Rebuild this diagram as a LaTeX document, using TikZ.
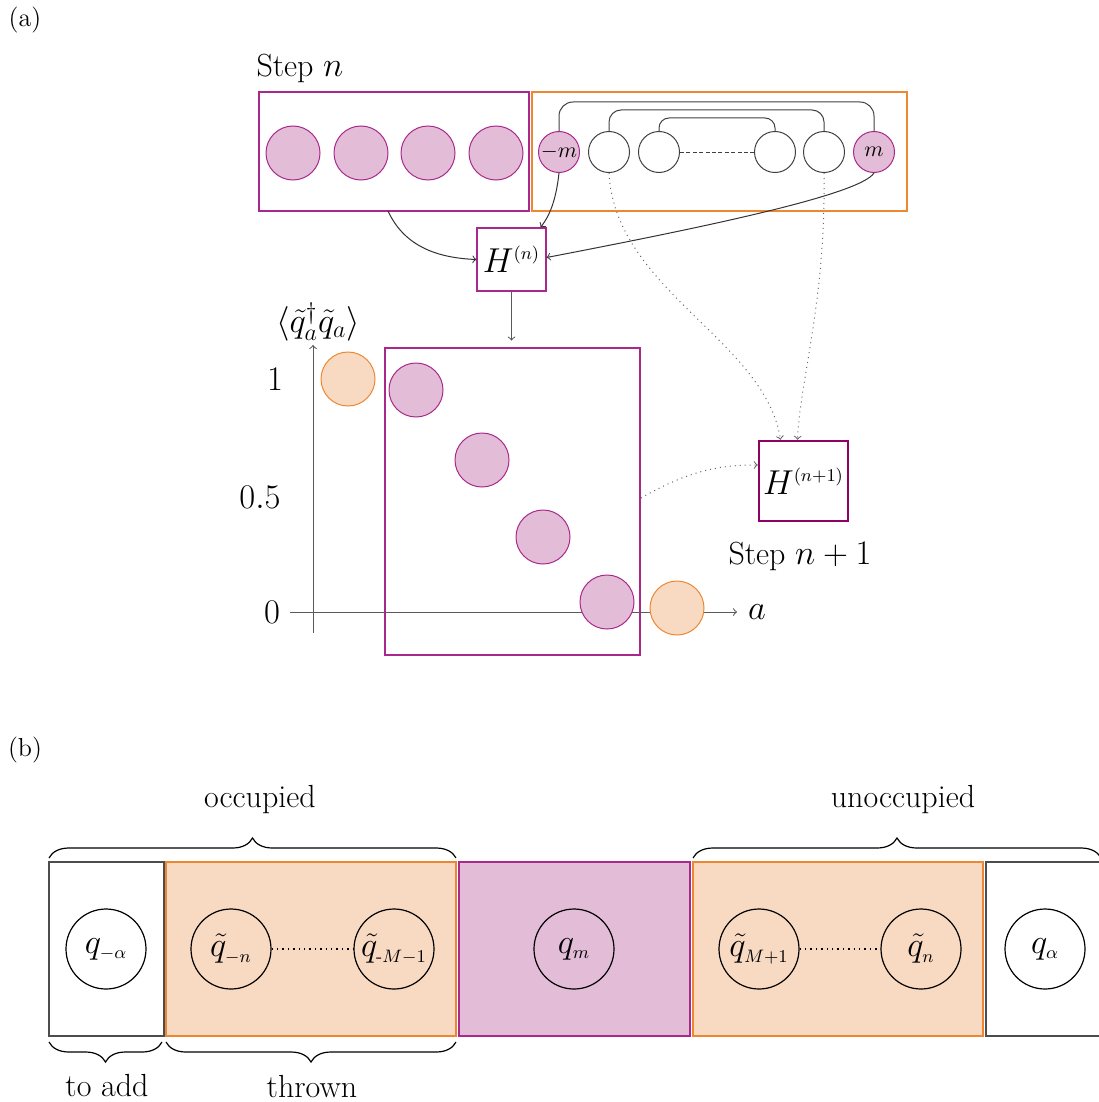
\documentclass[tikz,border=0pt]{standalone}
\usetikzlibrary{decorations.pathreplacing,calc}
\definecolor{pfill}{RGB}{227,188,215}
\definecolor{pline}{RGB}{170,40,140}
\definecolor{ofill}{RGB}{248,217,194}
\definecolor{oline}{RGB}{238,135,50}
\definecolor{hline}{RGB}{145,0,100}
\definecolor{gline}{RGB}{90,90,90}
\DeclareMathSizes{16}{16}{9.5}{7}
\DeclareMathSizes{17}{17}{9}{7}
\begin{document}
\begin{tikzpicture}[x=0.5pt,y=-0.5pt,line width=0.5pt,
  pcirc/.style={circle,draw=pline,fill=pfill,minimum size=27pt,inner sep=0pt},
  ocirc/.style={circle,draw=oline,fill=ofill,minimum size=27pt,inner sep=0pt},
  scirc/.style={circle,draw=black!75,minimum size=20.5pt,inner sep=0pt,font=\fontsize{11}{13}\selectfont},
  spcirc/.style={scirc,draw=pline,fill=pfill},
  bcirc/.style={circle,draw=black,line width=0.6pt,minimum size=40pt,inner sep=0pt,font=\fontsize{16}{19}\selectfont},
  box/.style={inner sep=0pt,line width=0.6pt},
  lbl/.style={font=\fontsize{16}{19}\selectfont},
  big/.style={font=\fontsize{18}{22}\selectfont},
  dotarr/.style={->,dotted,draw=black!60},
  brc/.style={decorate,decoration={brace,amplitude=10pt},line width=0.6pt}]
\useasboundingbox (0,0) rectangle (1098,1102);

% ---------- (a) ----------
\node[font=\fontsize{13}{16}\selectfont] (la) at (25,20) {(a)};
\node[lbl] (stepn) at (300,68) {Step $n$};

\node[box,draw=pline,minimum width=135pt,minimum height=59.5pt] (L) at (394,151.5) {};
\node[box,draw=oline,minimum width=187.5pt,minimum height=59.5pt] (R) at (719.5,151.5) {};

\node[pcirc] (p1) at (293,153) {};
\node[pcirc] (p2) at (361,153) {};
\node[pcirc] (p3) at (428,153) {};
\node[pcirc] (p4) at (496,153) {};

\node[spcirc] (m1) at (559,152) {$-m$};
\node[scirc] (c2) at (609,152) {};
\node[scirc] (c3) at (659,152) {};
\node[scirc] (c4) at (775,152) {};
\node[scirc] (c5) at (824,152) {};
\node[spcirc] (m2) at (874,152) {$m$};

\draw[black!75,rounded corners=7pt] (m1.north) |- (716,102) -| (m2.north);
\draw[black!75,rounded corners=6pt] (c2.north) |- (716,110) -| (c5.north);
\draw[black!75,rounded corners=5pt] (c3.north) |- (716,118) -| (c4.north);
\draw[black!75,dash pattern=on 2pt off 1.2pt,line width=0.4pt] (c3.east) -- (c4.west);

\node[box,draw=pline,minimum width=34.5pt,minimum height=31.5pt,font=\fontsize{16}{19}\selectfont] (Hn) at (511.5,259.5) {$H^{(n)}$};

\draw[->,black!80] (388,211) .. controls (405,248) and (440,258) .. (Hn.west);
\draw[->,black!80] (m1.south) .. controls (556,200) and (550,215) .. ($(Hn.north east)+(-6,0)$);
\draw[->,black!80] (m2.south) .. controls (860,195) and (700,228) .. ($(Hn.east)+(0,-2)$);

% plot
\coordinate (ybot) at (313,633);
\coordinate (ytop) at (313,345);
\coordinate (xl) at (290,612);
\coordinate (xr) at (737,612);
\node[box,draw=pline,minimum width=127.5pt,minimum height=153.5pt] (PR) at (512.5,501.5) {};
\draw[->,gline] (Hn.south) -- ($(Hn.south)+(0,49)$);
\draw[->,gline] (ybot) -- (ytop);
\draw[->,gline] (xl) -- (xr);
\node[big,anchor=west] (alab) at (741,612) {$a$};
\node[big] (yl) at (318,322) {$\langle\tilde{q}_a^\dagger\tilde{q}_a\rangle$};
\node[big] (t1) at (275,379) {$1$};
\node[big] (t05) at (260,497) {$0.5$};
\node[big] (t0) at (272,612) {$0$};

\node[ocirc] (o1) at (348,379) {};
\node[ocirc] (o2) at (677,608) {};
\node[pcirc] (q1) at (416,390) {};
\node[pcirc] (q2) at (482,460) {};
\node[pcirc] (q3) at (543,537) {};
\node[pcirc] (q4) at (607,602) {};

\node[box,draw=hline,line width=1.2pt,fill=white,minimum width=44.5pt,minimum height=40pt,font=\fontsize{17}{20}\selectfont] (H1) at (803.5,481) {$H^{(n+1)}$};
\node[lbl] (step1) at (800,556) {Step $n+1$};

\draw[dotarr] (c2.south) .. controls (615,290) and (765,340) .. ($(H1.north)+(-23,0)$);
\draw[dotarr] (c5.south) .. controls (826,300) and (800,380) .. ($(H1.north)+(-6,0)$);
\draw[dotarr] (641,498) .. controls (690,470) and (720,465) .. ($(H1.west)+(0,-16)$);

% ---------- (b) ----------
\node[font=\fontsize{13}{16}\selectfont] (lb) at (25,750) {(b)};

\node[box,draw=black!70,minimum width=57.5pt,minimum height=87pt] (b1) at (106.5,949) {};
\node[box,draw=oline,fill=ofill,minimum width=145pt,minimum height=87pt] (b2) at (311,949) {};
\node[box,draw=pline,fill=pfill,minimum width=115.5pt,minimum height=87pt] (b3) at (574.5,949) {};
\node[box,draw=oline,fill=ofill,minimum width=145pt,minimum height=87pt] (b4) at (838,949) {};
\node[box,draw=black!70,minimum width=62pt,minimum height=87pt] (b5) at (1048,949) {};

\node[bcirc] (qa1) at (106,949) {$q_{-\alpha}$};
\node[bcirc] (qn1) at (231,949) {$\tilde{q}_{-n}$};
\node[bcirc] (qM1) at (394,949) {$\tilde{q}_{\mbox{\fontsize{9}{9}\selectfont -}M-1}$};
\node[bcirc] (qm) at (574,949) {$q_m$};
\node[bcirc] (qM2) at (759,949) {$\tilde{q}_{M+1}$};
\node[bcirc] (qn2) at (921,949) {$\tilde{q}_{n}$};
\node[bcirc] (qa2) at (1045,949) {$q_{\alpha}$};
\draw[dotted,line width=0.7pt] (qn1.east) -- (qM1.west);
\draw[dotted,line width=0.7pt] (qM2.east) -- (qn2.west);

\draw[brc] (49,858) -- (456,858);
\draw[brc] (693,858) -- (1101,858);
\draw[brc,decoration={brace,mirror,amplitude=10pt}] (49,1042) -- (162,1042);
\draw[brc,decoration={brace,mirror,amplitude=10pt}] (166,1042) -- (456,1042);

\node[lbl] (occ) at (260,800) {occupied};
\node[lbl] (unocc) at (903,800) {unoccupied};
\node[lbl] (toadd) at (107,1086) {to add};
\node[lbl] (thrown) at (312,1087) {thrown};
\end{tikzpicture}
\end{document}
